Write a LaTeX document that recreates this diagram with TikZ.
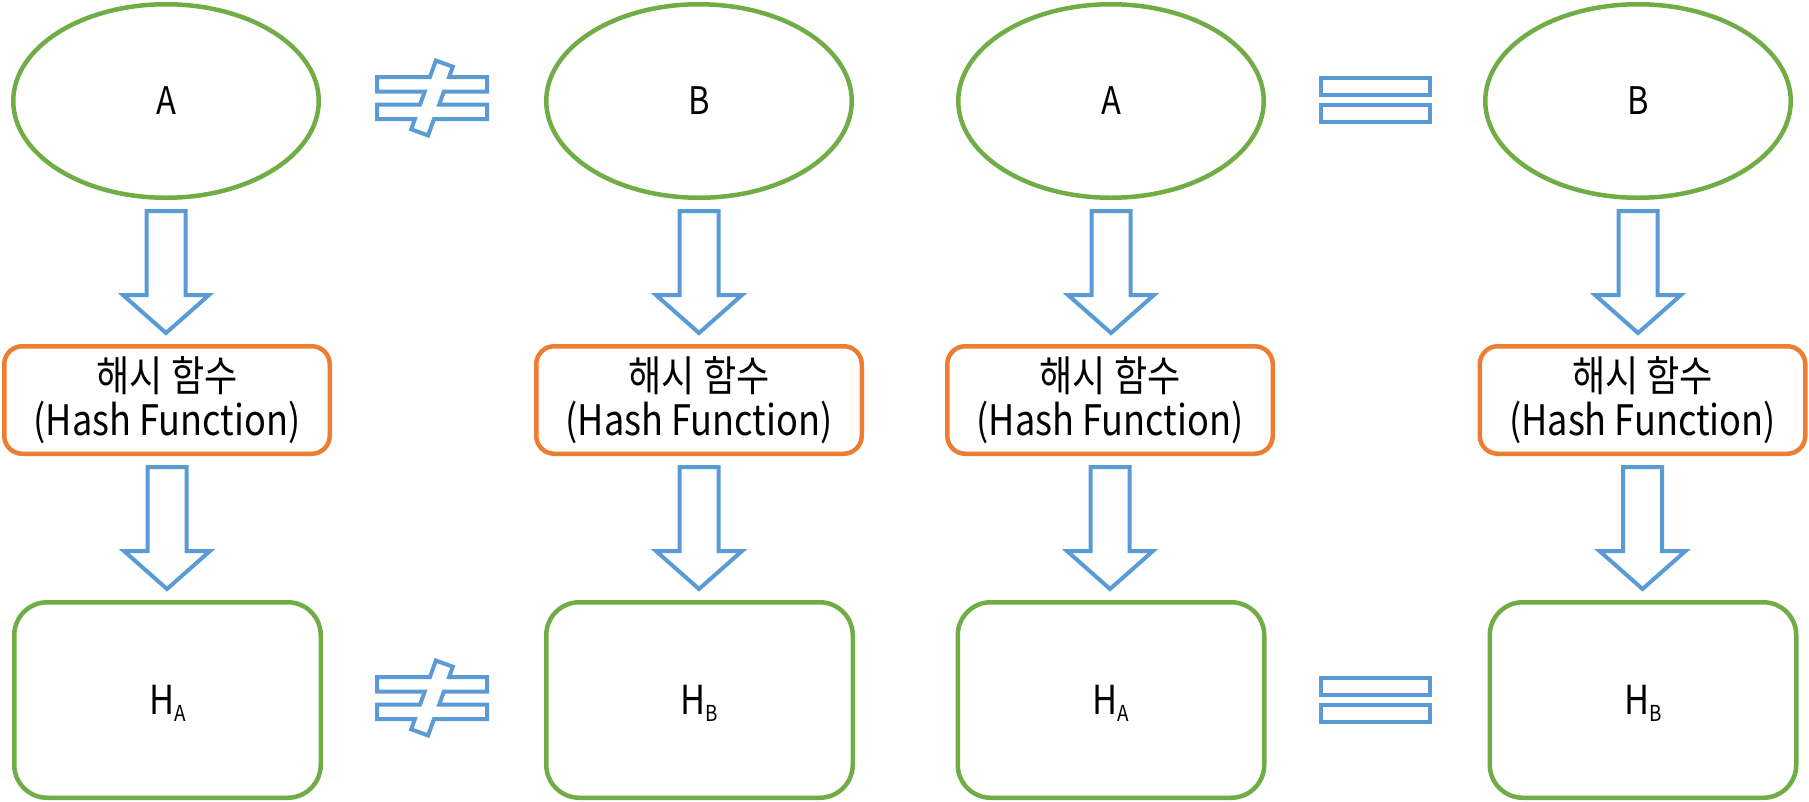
\documentclass[tikz,border=0pt]{standalone}
\usepackage{fontspec}
\setmainfont{Noto Sans CJK KR}[FakeStretch=0.86]
\usetikzlibrary{shapes.geometric,calc}
\definecolor{hgreen}{HTML}{70AD47}
\definecolor{horange}{HTML}{ED7D31}
\definecolor{hblue}{HTML}{5B9BD5}
\newcommand\hsub[1]{\raisebox{-7pt}{\fontsize{22}{22}\selectfont #1}}
\newcommand\blockarrow[2]{%
  \draw[blockarr] let \p1=(#1.south), \p2=(#2.north) in
    (\x1-19.5pt,\y1-11pt) -- (\x1+19.5pt,\y1-11pt) -- (\x1+19.5pt,\y2+49pt)
    -- (\x1+43pt,\y2+49pt) -- (\x1,\y2+11pt) -- (\x1-43pt,\y2+49pt)
    -- (\x1-19.5pt,\y2+49pt) -- cycle;}
\begin{document}
\begin{tikzpicture}[x=1pt,y=-1pt,
  inbox/.style={ellipse,draw=hgreen,line width=4.5pt,minimum width=305.5pt,
    minimum height=193.5pt,inner sep=0pt,font=\fontsize{38}{40}\selectfont},
  hashbox/.style={rectangle,rounded corners=18pt,draw=horange,line width=4.5pt,
    minimum width=325.5pt,minimum height=107.5pt,inner sep=0pt,align=center,
    font=\fontsize{42}{44}\selectfont},
  outbox/.style={rectangle,rounded corners=33pt,draw=hgreen,line width=4.5pt,
    minimum width=306.5pt,minimum height=195.5pt,inner sep=0pt,text depth=0pt,
    font=\fontsize{40}{44}\selectfont},
  blockarr/.style={draw=hblue,line width=4pt,fill=white,line join=miter},
  sign/.style={draw=hblue,line width=4pt,fill=white,line join=miter},
  neq/.pic={\path[sign] (-55,-21) -- (-2.03,-21) -- (3.86,-37.42) -- (20.82,-31.34)
     -- (17.11,-21) -- (55,-21) -- (55,-6.5) -- (11.91,-6.5) -- (7.24,6.5)
     -- (55,6.5) -- (55,21) -- (2.04,21) -- (-3.86,37.42) -- (-20.82,31.34)
     -- (-17.10,21) -- (-55,21) -- (-55,6.5) -- (-11.90,6.5) -- (-7.23,-6.5)
     -- (-55,-6.5) -- cycle;},
  eqs/.pic={\path[sign] (-54.5,-22) rectangle (54.5,-5);
     \path[sign] (-54.5,5) rectangle (54.5,22);}]
\useasboundingbox (0,0) rectangle (1809,801);
% inputs
\node[inbox] (a1) at (166,101) {A};
\node[inbox] (b1) at (699,101) {B};
\node[inbox] (a2) at (1111,101) {A};
\node[inbox] (b2) at (1638,101) {B};
% hash functions
\node[hashbox] (h1) at (167,400) {해시 함수\\(Hash Function)};
\node[hashbox] (h2) at (699,400) {해시 함수\\(Hash Function)};
\node[hashbox] (h3) at (1110,400) {해시 함수\\(Hash Function)};
\node[hashbox] (h4) at (1642.5,400) {해시 함수\\(Hash Function)};
% outputs
\node[outbox] (o1) at (167.5,700) {H\hsub{A}};
\node[outbox] (o2) at (699.5,700) {H\hsub{B}};
\node[outbox] (o3) at (1111,700) {H\hsub{A}};
\node[outbox] (o4) at (1643,700) {H\hsub{B}};
% block arrows
\blockarrow{a1}{h1}
\blockarrow{b1}{h2}
\blockarrow{a2}{h3}
\blockarrow{b2}{h4}
\blockarrow{h1}{o1}
\blockarrow{h2}{o2}
\blockarrow{h3}{o3}
\blockarrow{h4}{o4}
% comparison signs
\pic at (432,98) {neq};
\pic at (1375.5,99.5) {eqs};
\pic at (432,698) {neq};
\pic at (1375.5,700) {eqs};
\end{tikzpicture}
\end{document}
